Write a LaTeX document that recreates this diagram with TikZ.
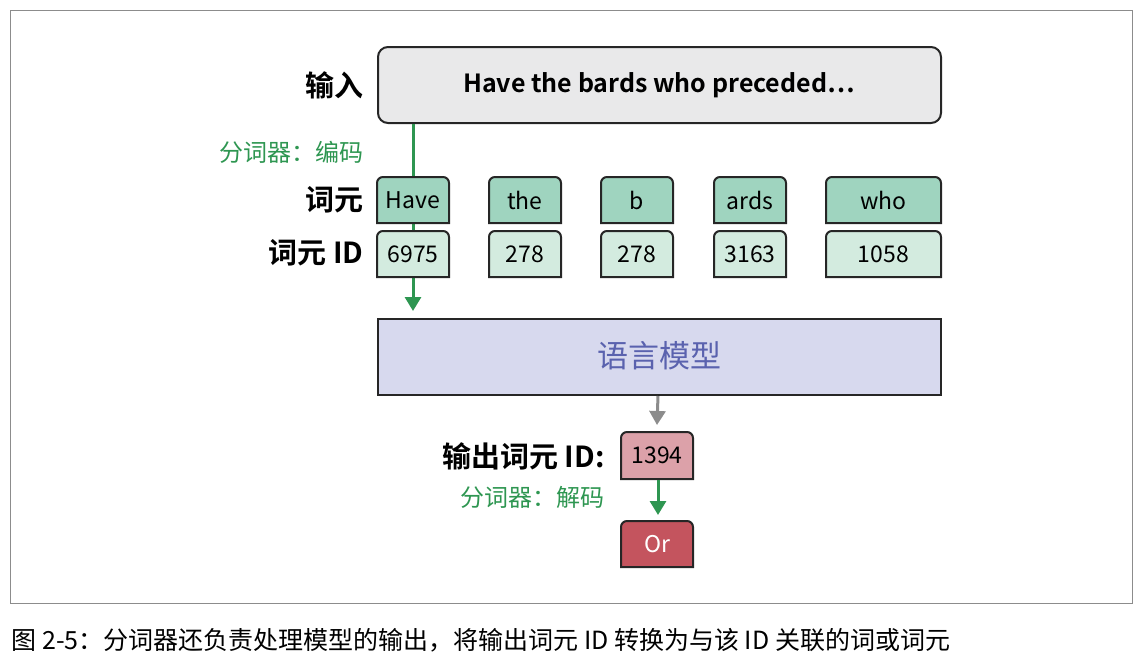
\documentclass[tikz,border=0pt]{standalone}
\usepackage{fontspec}
\setmainfont{Noto Sans CJK SC}[BoldFont={Noto Sans CJK SC Bold}]
\usetikzlibrary{arrows.meta}
\definecolor{tokgreen}{HTML}{9FD4BF}
\definecolor{idgreen}{HTML}{D3EBDF}
\definecolor{lmblue}{HTML}{D7D9EE}
\definecolor{lmtext}{HTML}{5A62AE}
\definecolor{arrowgreen}{HTML}{2E9651}
\definecolor{outpink}{HTML}{DCA1A9}
\definecolor{outred}{HTML}{C4545E}
\definecolor{inputgray}{HTML}{E9E9EA}
\tikzset{
	lbl/.style={anchor=east,font=\fontsize{29}{29}\selectfont\bfseries},
	enc/.style={anchor=east,text=arrowgreen,font=\fontsize{24}{24}\selectfont},
	flow/.style={line width=3pt,-{Triangle[length=14pt,width=16pt]}},
}
% box with rounded top corners, square bottom
\newcommand{\tokbox}[7]{%
	\fill[#6,rounded corners=6pt] (#2,#5) -- (#2,#3) -- (#4,#3) [sharp corners] -- (#4,#5) -- cycle;
	\draw[line width=2pt,black!85,rounded corners=6pt] (#2,#5) -- (#2,#3) -- (#4,#3) [sharp corners] -- (#4,#5) -- cycle;
	\node[font=\fontsize{23}{23}\selectfont] (#1) at ({(#2+#4)/2},{(#3+#5)/2}) {#7};
}
\begin{document}
\begin{tikzpicture}[x=1pt,y=-1pt]
	\useasboundingbox (0,0) rectangle (1141,667);
	\draw[black!45,line width=1pt] (10,10) rectangle (1132,603);

	% input
	\draw[line width=2pt,black!85,fill=inputgray,rounded corners=10pt] (378,47) rectangle (941,123);
	\node[font=\fontsize{25}{25}\selectfont\bfseries] (input) at (659,85) {Have the bards who preceded…};
	\node[lbl] (input_lbl) at (367,85) {输入};

	% encode arrow
	\coordinate (enc_top) at (413,124);
	\coordinate (enc_tip) at (413,311);
	\draw[flow,draw=arrowgreen,fill=arrowgreen] (enc_top) -- (enc_tip);
	\node[enc] (enc_lbl) at (367,152) {分词器：编码};

	% tokens and ids
	\tokbox{tok1}{377}{177}{449}{223}{tokgreen}{Have}
	\tokbox{tok2}{489}{177}{561}{223}{tokgreen}{the}
	\tokbox{tok3}{601}{177}{673}{223}{tokgreen}{b}
	\tokbox{tok4}{714}{177}{786}{223}{tokgreen}{ards}
	\tokbox{tok5}{826}{177}{941}{223}{tokgreen}{who}
	\tokbox{id1}{377}{231}{449}{277}{idgreen}{6975}
	\tokbox{id2}{489}{231}{561}{277}{idgreen}{278}
	\tokbox{id3}{601}{231}{673}{277}{idgreen}{278}
	\tokbox{id4}{714}{231}{786}{277}{idgreen}{3163}
	\tokbox{id5}{826}{231}{941}{277}{idgreen}{1058}
	\node[lbl] (tok_lbl) at (367,200) {词元};
	\node[lbl] (id_lbl) at (367,253) {词元 ID};

	% language model
	\draw[line width=2pt,black!85,fill=lmblue] (378,319) rectangle (941,395);
	\node[text=lmtext,font=\fontsize{31}{31}\selectfont] (lm) at (659,356) {语言模型};

	% output
	\coordinate (lm_out) at (658,396);
	\tokbox{out}{621}{432}{693}{479}{outpink}{1394}
	\tokbox{word}{621}{521}{693}{567}{outred}{\textcolor{white}{Or}}
	\draw[flow,draw=black!45,fill=black!45] (lm_out) -- (out.north |- 0,425);
	\draw[flow,draw=arrowgreen,fill=arrowgreen] (658,480) -- (658,515);
	\node[lbl] (out_lbl) at (608,456) {输出词元 ID:};
	\node[enc] (dec_lbl) at (608,497) {分词器：解码};

	% caption
	\node[anchor=west,font=\fontsize{25}{25}\selectfont] (caption) at (8,640) {图 2-5：分词器还负责处理模型的输出，将输出词元 ID 转换为与该 ID 关联的词或词元};
\end{tikzpicture}
\end{document}
